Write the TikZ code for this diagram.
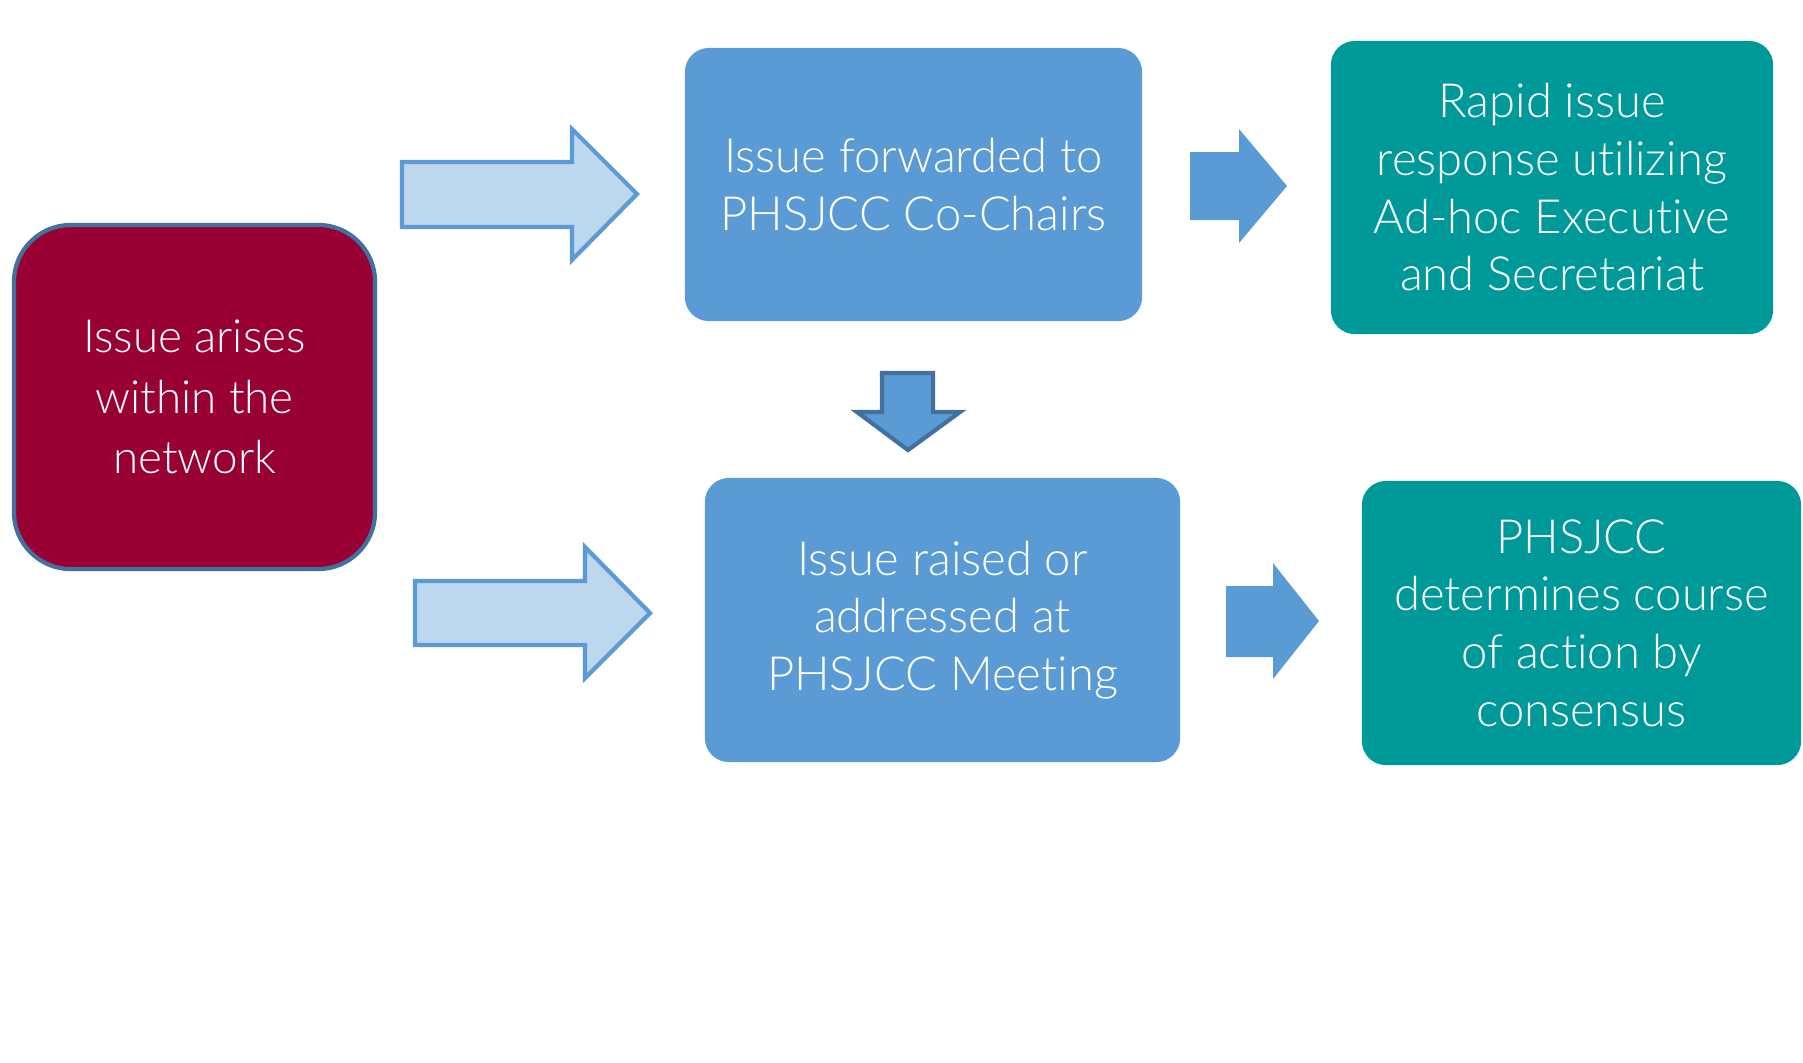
\documentclass[tikz,border=0pt]{standalone}
\usepackage{fontspec}
\setmainfont{Lato Light}[Ligatures={NoCommon}]
\usetikzlibrary{positioning}
\definecolor{wine}{HTML}{990033}
\definecolor{boxblue}{HTML}{5B9BD5}
\definecolor{darkblue}{HTML}{41719C}
\definecolor{paleblue}{HTML}{BDD7EE}
\definecolor{teal}{HTML}{009999}
\begin{document}
\begin{tikzpicture}[x=0.01cm,y=-0.01cm,
	box/.style={draw=none, align=center, text=white, inner sep=0pt,
		font=\fontsize{13.4}{16.4}\selectfont, rounded corners=0.24cm},
	palearrow/.style={fill=paleblue, draw=boxblue, line width=1.2pt},
	solidarrow/.style={fill=boxblue, draw=none}]
		\useasboundingbox (0,0) rectangle (1803,1062);
		
		\node[box, fill=wine, draw=darkblue, line width=1.2pt, rounded corners=0.57cm,
			minimum width=3.61cm, minimum height=3.44cm,
			font=\fontsize{13}{17.2}\selectfont] (arise) at (194.5,397) {Issue arises\\within the\\network};
		
		\node[box, fill=boxblue, minimum width=4.57cm, minimum height=2.73cm] (chairs) at (913.5,184.5) {Issue forwarded to\\PHSJCC Co-Chairs};
		\node[box, fill=boxblue, minimum width=4.75cm, minimum height=2.84cm] (meeting) at (942.5,620) {Issue raised or\\addressed at\\PHSJCC Meeting};
		
		\node[box, fill=teal, minimum width=4.42cm, minimum height=2.93cm] (rapid) at (1552,187.5) {Rapid issue\\response utilizing\\Ad-hoc Executive\\and Secretariat};
		\node[box, fill=teal, minimum width=4.39cm, minimum height=2.84cm] (consensus) at (1581.5,623) {PHSJCC\\determines course\\of action by\\consensus};
		
		% pale arrows from the first box
		\draw[palearrow] (402,162) -- (572,162) -- (572,129) -- (637,194) -- (572,260) -- (572,227) -- (402,227) -- cycle;
		\draw[palearrow] (415,581) -- (585,581) -- (585,547) -- (650,613) -- (585,678) -- (585,645) -- (415,645) -- cycle;
		
		% down arrow between the blue boxes
		\draw[fill=boxblue, draw=darkblue, line width=1.2pt] (882,373) -- (933,373) -- (933,412) -- (960,412) -- (908,450) -- (857,412) -- (882,412) -- cycle;
		
		% solid arrows to the teal boxes
		\fill[solidarrow] (1190,152) -- (1239,152) -- (1239,129) -- (1287,186) -- (1239,243) -- (1239,220) -- (1190,220) -- cycle;
		\fill[solidarrow] (1226,586) -- (1273,586) -- (1273,563) -- (1319,621) -- (1273,679) -- (1273,657) -- (1226,657) -- cycle;
	\end{tikzpicture}
\end{document}
